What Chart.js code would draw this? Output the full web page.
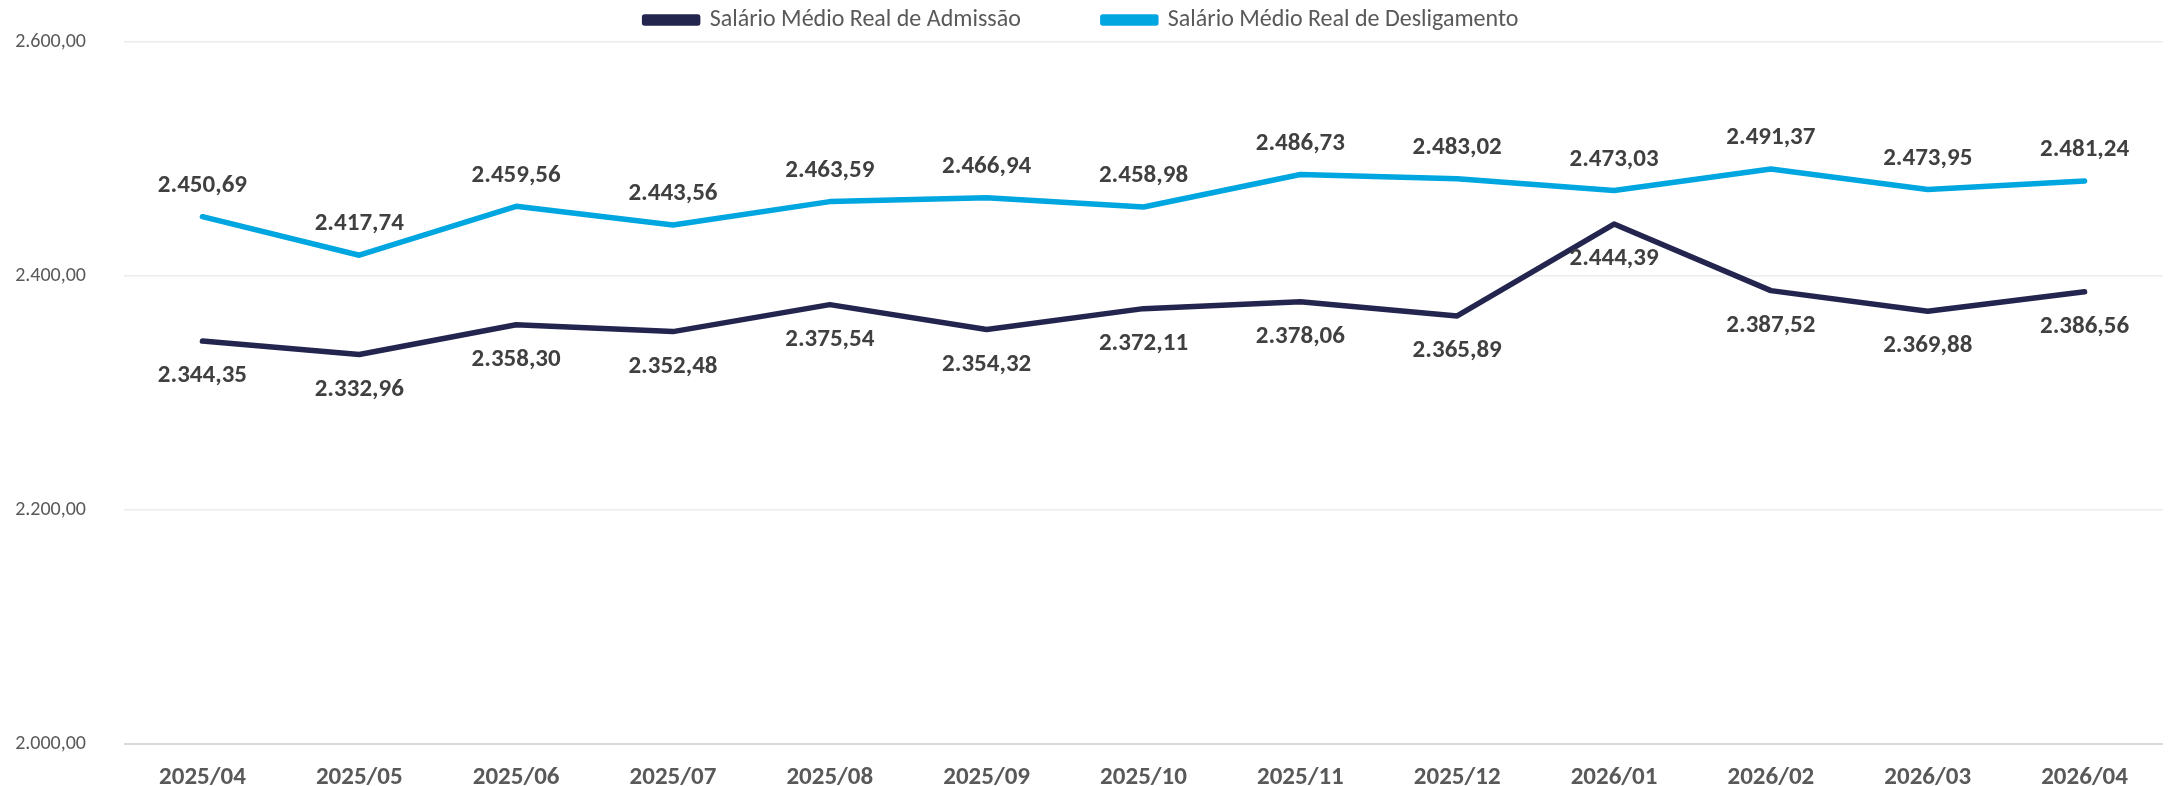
<!DOCTYPE html>
<html>
<head>
<meta charset="utf-8">
<script src="https://cdn.jsdelivr.net/npm/chart.js@4.4.1/dist/chart.umd.min.js"></script>
<style>
  html, body { margin: 0; padding: 0; background: #ffffff; overflow: hidden; }
  #wrap { width: 2172px; height: 786px; }
  canvas { display: block; }
</style>
</head>
<body>
<div id="wrap"><canvas id="chart" width="2172" height="786"></canvas></div>
<script>
  "use strict";

  const MONTHS = [
    "2025/04", "2025/05", "2025/06", "2025/07", "2025/08", "2025/09", "2025/10",
    "2025/11", "2025/12", "2026/01", "2026/02", "2026/03", "2026/04",
  ];
  const ADMISSAO = [
    2344.35, 2332.96, 2358.30, 2352.48, 2375.54, 2354.32, 2372.11,
    2378.06, 2365.89, 2444.39, 2387.52, 2369.88, 2386.56,
  ];
  const DESLIGAMENTO = [
    2450.69, 2417.74, 2459.56, 2443.56, 2463.59, 2466.94, 2458.98,
    2486.73, 2483.02, 2473.03, 2491.37, 2473.95, 2481.24,
  ];
  const Y_MIN = 2000;
  const Y_MAX = 2600;
  const Y_STEP = 200;

  const COLOR_ADMISSAO = "#23254f";
  const COLOR_DESLIGAMENTO = "#00a6df";
  const FONT_FAMILY = "Carlito, Calibri, Lato, 'Open Sans', sans-serif";

  // pt-BR style: 2.450,69
  function formatBR(v) {
    const fixed = Number(v).toFixed(2);
    const parts = fixed.split(".");
    const intPart = parts[0].replace(/\B(?=(\d{3})+(?!\d))/g, ".");
    return intPart + "," + parts[1];
  }

  const valueLabelsPlugin = {
    id: "valueLabels",
    afterDatasetsDraw(chart) {
      const ctx = chart.ctx;
      ctx.save();
      ctx.font = "bold 25px " + FONT_FAMILY;
      ctx.fillStyle = "#404040";
      ctx.textAlign = "center";
      ctx.textBaseline = "middle";
      chart.data.datasets.forEach((ds, di) => {
        const meta = chart.getDatasetMeta(di);
        const offset = ds.labelAbove ? -31 : 35;
        meta.data.forEach((pt, i) => {
          ctx.fillText(formatBR(ds.data[i]), pt.x, pt.y + offset);
        });
      });
      ctx.restore();
    },
  };

  new Chart(document.getElementById("chart"), {
    type: "line",
    data: {
      labels: MONTHS,
      datasets: [
        {
          label: "Salário Médio Real de Admissão",
          data: ADMISSAO,
          borderColor: COLOR_ADMISSAO,
          backgroundColor: COLOR_ADMISSAO,
          borderWidth: 5.5,
          pointRadius: 0,
          tension: 0,
          borderJoinStyle: "round",
          borderCapStyle: "round",
          labelAbove: false,
        },
        {
          label: "Salário Médio Real de Desligamento",
          data: DESLIGAMENTO,
          borderColor: COLOR_DESLIGAMENTO,
          backgroundColor: COLOR_DESLIGAMENTO,
          borderWidth: 5.5,
          pointRadius: 0,
          tension: 0,
          borderJoinStyle: "round",
          borderCapStyle: "round",
          labelAbove: true,
        },
      ],
    },
    options: {
      responsive: false,
      maintainAspectRatio: false,
      animation: false,
      events: [],
      layout: { padding: { top: -2, right: 9, bottom: 0, left: 0 } },
      plugins: {
        legend: {
          position: "top",
          labels: {
            boxWidth: 53,
            boxHeight: 6,
            padding: 10,
            color: "#595959",
            font: { family: FONT_FAMILY, size: 24 },
            // wider gap between the two entries, as in the original
            generateLabels(chart) {
              const items = Chart.defaults.plugins.legend.labels.generateLabels(chart);
              items.forEach((it, i) => {
                if (i < items.length - 1) it.text += "\u2003\u2003\u2003";
              });
              return items;
            },
          },
        },
        tooltip: { enabled: false },
      },
      scales: {
        x: {
          offset: true,
          grid: { display: false, drawTicks: false },
          border: { display: false },
          ticks: {
            padding: 19,
            color: "#595959",
            font: { family: FONT_FAMILY, size: 25, weight: "bold" },
          },
          afterFit(scale) {
            scale.height = 42;
          },
        },
        y: {
          min: Y_MIN,
          max: Y_MAX,
          border: { display: false },
          grid: {
            // invisible tick marks give the gap between labels and plot
            // (ticks.padding would also pad the chart area vertically)
            drawTicks: true,
            tickLength: 34,
            tickColor: "rgba(0, 0, 0, 0)",
            lineWidth: (c) => (c.tick && c.tick.value === Y_MIN ? 2 : 1.5),
            color: (c) => (c.tick && c.tick.value === Y_MIN ? "#d9d9d9" : "#ececec"),
          },
          ticks: {
            stepSize: Y_STEP,
            padding: 4,
            color: "#595959",
            font: { family: FONT_FAMILY, size: 20 },
            callback: (v) => formatBR(v),
          },
          afterFit(scale) {
            scale.width = 124;
          },
        },
      },
    },
    plugins: [valueLabelsPlugin],
  });
</script>
</body>
</html>
